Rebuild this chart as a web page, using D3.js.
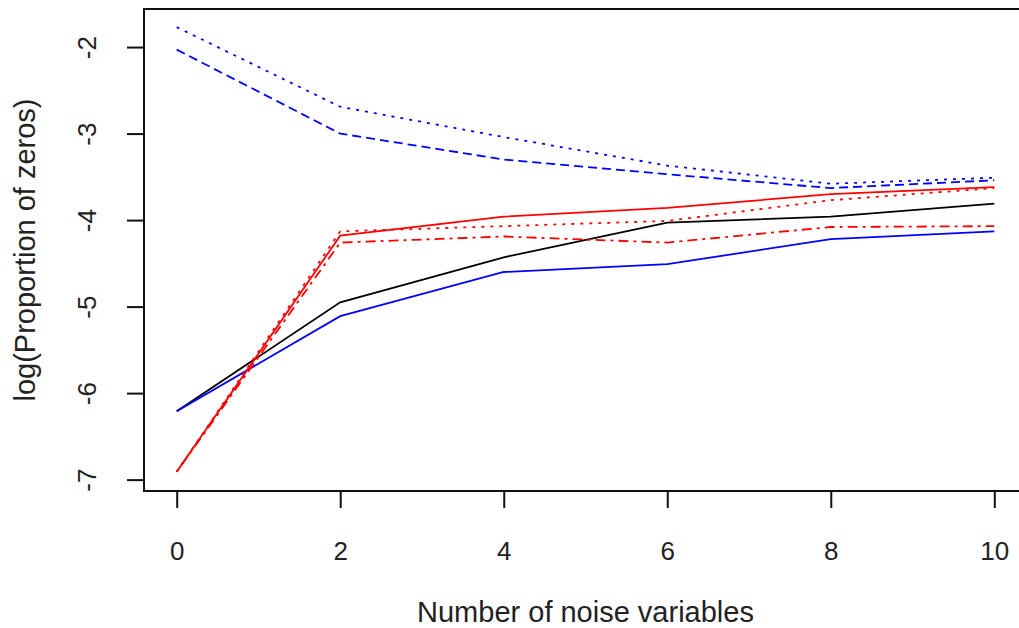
<!DOCTYPE html>
<html lang="en">
<head>
    <meta charset="UTF-8">
    <title>log(Proportion of zeros) vs noise variables</title>
    <script src="https://d3js.org/d3.v7.min.js"></script>
    <style>
        body {
            margin: 0;
            background: white;
            font-family: "Liberation Sans", Arial, sans-serif;
        }
        svg text {
            fill: #222;
        }
        .axis-title {
            font-size: 29px;
        }
    </style>
</head>
<body>
    <svg width="1019" height="628"></svg>
    <script>
        // number of noise variables
        const noiseVars = [0, 2, 4, 6, 8, 10];

        // series values, log(proportion of zeros)
        const blackSolid   = [-6.21, -4.95, -4.43, -4.03, -3.96, -3.81];
        const blueSolid    = [-6.21, -5.11, -4.60, -4.51, -4.22, -4.13];
        const blueDashed   = [-2.03, -3.00, -3.30, -3.47, -3.63, -3.54];
        const blueDotted   = [-1.77, -2.69, -3.04, -3.37, -3.58, -3.51];
        const redSolid     = [-6.91, -4.18, -3.96, -3.86, -3.70, -3.62];
        const redDotDash   = [-6.91, -4.26, -4.19, -4.26, -4.08, -4.07];
        const redDotted    = [-6.91, -4.13, -4.07, -4.01, -3.77, -3.63];

        const xTicks = [0, 2, 4, 6, 8, 10];
        const yTicks = [-7, -6, -5, -4, -3, -2];

        const series = [
            { values: blackSolid, color: "#000000", dash: null },
            { values: blueSolid, color: "#0000ff", dash: null },
            { values: blueDashed, color: "#0000ff", dash: "9,5" },
            { values: blueDotted, color: "#0000ff", dash: "3,6" },
            { values: redSolid, color: "#ff0000", dash: null },
            { values: redDotDash, color: "#ff0000", dash: "3,5,10,5" },
            { values: redDotted, color: "#ff0000", dash: "3,6" }
        ];

        const svg = d3.select("svg");
        const box = { left: 144, right: 1027, top: 9, bottom: 491 };

        const x = d3.scaleLinear()
            .domain([-0.4, 10.4])
            .range([box.left, box.right]);

        const y = d3.scaleLinear()
            .domain([-7.12, -1.56])
            .range([box.bottom - 1, box.top]);

        // plain hyphen minus, as R prints it
        const fmt = d => String(d);

        // plot box (right edge falls outside the picture)
        svg.append("rect")
            .attr("x", box.left)
            .attr("y", box.top)
            .attr("width", box.right - box.left)
            .attr("height", box.bottom - box.top)
            .attr("fill", "none")
            .attr("stroke", "#111")
            .attr("stroke-width", 2);

        // x axis
        const xAxis = svg.append("g")
            .attr("transform", `translate(0,${box.bottom})`)
            .call(d3.axisBottom(x).tickValues(xTicks).tickFormat(fmt)
                .tickSize(17).tickPadding(0).tickSizeOuter(0));
        xAxis.select(".domain").remove();
        xAxis.selectAll(".tick line").attr("stroke", "#111").attr("stroke-width", 2);
        xAxis.selectAll(".tick text")
            .attr("y", 69)
            .attr("dy", null)
            .style("font-size", "26px")
            .style("font-family", "'Liberation Sans', Arial, sans-serif")
            .attr("fill", "#222");

        // y axis, labels parallel to axis
        const yAxis = svg.append("g")
            .attr("transform", `translate(${box.left},0)`)
            .call(d3.axisLeft(y).tickValues(yTicks).tickFormat(fmt)
                .tickSize(17).tickSizeOuter(0));
        yAxis.select(".domain").remove();
        yAxis.selectAll(".tick line").attr("stroke", "#111").attr("stroke-width", 2);
        yAxis.selectAll(".tick text")
            .attr("x", null)
            .attr("dy", null)
            .attr("text-anchor", "middle")
            .attr("transform", "translate(-48,0) rotate(-90)")
            .style("font-size", "26px")
            .style("font-family", "'Liberation Sans', Arial, sans-serif")
            .attr("fill", "#222");

        // lines
        const line = d3.line()
            .x((d, i) => x(noiseVars[i]))
            .y(d => y(d));

        svg.append("g")
            .selectAll("path")
            .data(series)
            .join("path")
            .attr("d", d => line(d.values))
            .attr("fill", "none")
            .attr("stroke", d => d.color)
            .attr("stroke-width", 1.8)
            .attr("stroke-dasharray", d => d.dash);

        // axis titles
        svg.append("text")
            .attr("class", "axis-title")
            .attr("x", (box.left + box.right) / 2)
            .attr("y", 622)
            .attr("text-anchor", "middle")
            .text("Number of noise variables");

        svg.append("text")
            .attr("class", "axis-title")
            .attr("transform", `translate(35,${(box.top + box.bottom) / 2}) rotate(-90)`)
            .attr("text-anchor", "middle")
            .text("log(Proportion of zeros)");
    </script>
</body>
</html>
